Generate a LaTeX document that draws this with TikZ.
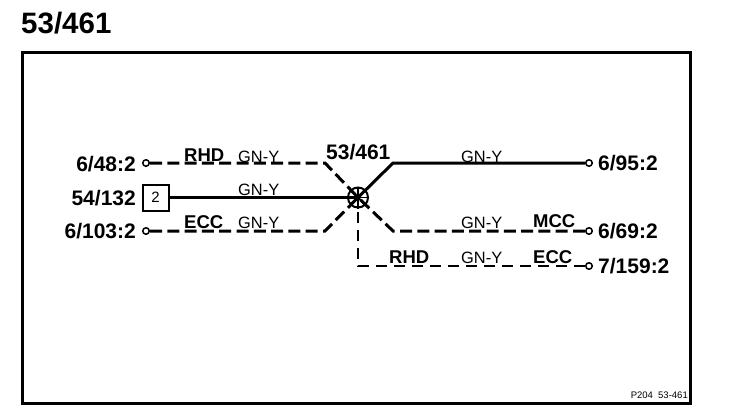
\documentclass[tikz,border=0pt]{standalone}
\usepackage{fontspec}
\setmainfont{Liberation Sans}
\tikzset{
    pinlabel/.style={inner sep=0pt,font=\fontsize{21}{21}\selectfont\bfseries},
    optlabel/.style={inner sep=0pt,anchor=base west,font=\fontsize{18.5}{18.5}\selectfont\bfseries},
    wirelabel/.style={inner sep=0pt,anchor=base west,font=\fontsize{16.4}{16.4}\selectfont},
    pin/.style={circle,draw,line width=1.5pt,fill=white,inner sep=0pt,minimum size=6.5pt},
    wire/.style={line width=3pt},
    optwire/.style={line width=3pt,dash pattern=on 12pt off 5.3pt},
    thinwire/.style={line width=1.8pt,dash pattern=on 11pt off 7pt},
    spoke/.style={line width=1.8pt}
}
\begin{document}
\begin{tikzpicture}[x=1pt,y=-1pt]
    \useasboundingbox (0,0) rectangle (736,412);
    \draw[line width=3pt] (22,53) rectangle (690,403);
    \node[pinlabel,anchor=base west,font=\fontsize{29.5}{29.5}\selectfont\bfseries] (title) at (21,34) {53/461};
    % pins and splice
    \node[pin] (pinA) at (146,163) {};
    \node[pin] (pinC) at (146,231) {};
    \node[pin] (pinD) at (589,163) {};
    \node[pin] (pinE) at (589,231) {};
    \node[pin] (pinF) at (589,266) {};
    \node[draw,line width=2pt,fill=white,minimum width=26pt,minimum height=26pt,inner sep=0pt,font=\fontsize{15}{15}\selectfont] (conn) at (155.5,197.5) {2};
    \node[circle,draw,line width=2pt,inner sep=0pt,minimum size=20pt] (splice) at (358,197.5) {};
    \coordinate (bendA) at (325,163);
    \coordinate (bendC) at (325,231);
    \coordinate (bendD) at (393,163);
    \coordinate (bendE) at (393,231);
    \coordinate (bendF) at (358,266);
    % wires
    \draw[optwire] (pinA) -- (bendA) -- (splice.center);
    \draw[optwire] (pinC) -- (bendC) -- (splice.center);
    \draw[wire] (conn) -- (splice.center);
    \draw[wire] (pinD) -- (bendD) -- (splice.center);
    \draw[optwire] (pinE) -- (bendE) -- (splice.center);
    \draw[thinwire] (pinF) -- (bendF) -- (splice.center);
    \draw[spoke] (splice.north) -- (splice.south);
    \draw[spoke] (splice.west) -- (splice.east);
    \draw[spoke] (splice.north west) -- (splice.south east);
    \draw[spoke] (splice.north east) -- (splice.south west);
    % pin labels
    \node[pinlabel,anchor=base east] (labA) at (136,171) {6/48:2};
    \node[pinlabel,anchor=base east] (labB) at (136,205) {54/132};
    \node[pinlabel,anchor=base east] (labC) at (136,238) {6/103:2};
    \node[pinlabel,anchor=base west] (labS) at (326,159) {53/461};
    \node[pinlabel,anchor=base west] (labD) at (598,170) {6/95:2};
    \node[pinlabel,anchor=base west] (labE) at (598,238) {6/69:2};
    \node[pinlabel,anchor=base west] (labF) at (598,273) {7/159:2};
    % wire labels
    \node[optlabel] (rhdA) at (184,161) {RHD};
    \node[optlabel] (eccC) at (184,228) {ECC};
    \node[optlabel] (mccE) at (533,227) {MCC};
    \node[optlabel] (rhdF) at (389,263) {RHD};
    \node[optlabel] (eccF) at (533,263) {ECC};
    \node[wirelabel] (colA) at (238,162) {GN-Y};
    \node[wirelabel] (colB) at (238,195) {GN-Y};
    \node[wirelabel] (colC) at (238,228) {GN-Y};
    \node[wirelabel] (colD) at (461,162) {GN-Y};
    \node[wirelabel] (colE) at (461,228) {GN-Y};
    \node[wirelabel] (colF) at (461,263) {GN-Y};
    \node[inner sep=0pt,anchor=base east,font=\fontsize{9.5}{9.5}\selectfont] (ref) at (688,398) {P204\ \ 53-461};
\end{tikzpicture}
\end{document}
